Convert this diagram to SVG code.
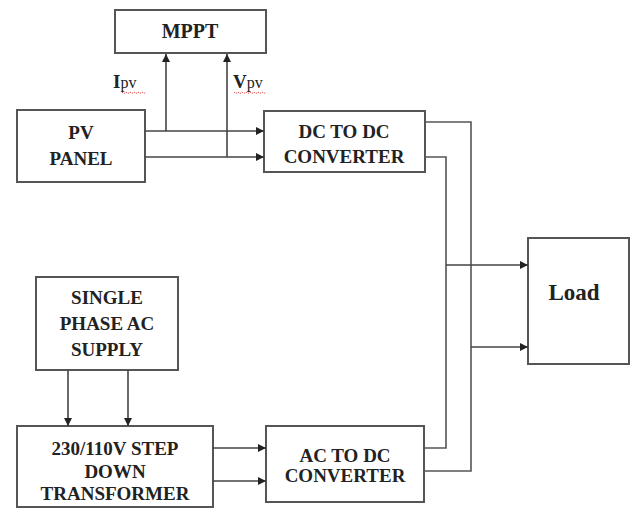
<svg xmlns="http://www.w3.org/2000/svg" width="635" height="514" viewBox="0 0 635 514">
<defs>
<marker id="ah" viewBox="0 0 10 10" refX="10" refY="5" markerWidth="8" markerHeight="8" markerUnits="userSpaceOnUse" orient="auto">
<path d="M0,0 L10,5 L0,10 z" fill="#222"/>
</marker>
<style>
.box{fill:#fff;stroke:#555;stroke-width:2}
.t{font-family:'Liberation Serif','DejaVu Serif',serif;font-weight:bold;font-size:19px;fill:#222;text-anchor:middle}
.w{fill:none;stroke:#555;stroke-width:1.6}
.a{fill:none;stroke:#444;stroke-width:1.6;marker-end:url(#ah)}
.sq{fill:none;stroke:#e04040;stroke-width:0.9;stroke-dasharray:1.5 1}
.l{font-family:'Liberation Serif','DejaVu Serif',serif;fill:#222}
</style>
</defs>
<rect width="635" height="514" fill="#fff"/>
<g id="mppt">
<rect class="box" x="115" y="10" width="151" height="43"/>
<text class="t" x="190" y="38" style="font-size:20px">MPPT</text>
</g>
<g id="pv-panel">
<rect class="box" x="17" y="110" width="128" height="72"/>
<text class="t" x="81" y="139">PV</text>
<text class="t" x="81" y="165">PANEL</text>
</g>
<g id="dc-dc">
<rect class="box" x="264" y="111" width="161" height="61"/>
<text class="t" x="344" y="138">DC TO DC</text>
<text class="t" x="344" y="163">CONVERTER</text>
</g>
<g id="load">
<rect class="box" x="528" y="238" width="101" height="126"/>
<text class="t" x="574" y="300" style="font-size:23px">Load</text>
</g>
<g id="ac-supply">
<rect class="box" x="36" y="277" width="142" height="93"/>
<text class="t" x="107" y="304">SINGLE</text>
<text class="t" x="107" y="330">PHASE AC</text>
<text class="t" x="107" y="356">SUPPLY</text>
</g>
<g id="transformer">
<rect class="box" x="17" y="426" width="196" height="81"/>
<text class="t" x="115" y="455">230/110V STEP</text>
<text class="t" x="115" y="478">DOWN</text>
<text class="t" x="115" y="500">TRANSFORMER</text>
</g>
<g id="ac-dc">
<rect class="box" x="266" y="426" width="158" height="76"/>
<text class="t" x="345" y="462">AC TO DC</text>
<text class="t" x="345" y="482">CONVERTER</text>
</g>
<g id="labels">
<text class="l" x="113" y="88" font-size="19" font-weight="bold">I<tspan font-size="16" font-weight="normal">pv</tspan></text>
<path class="sq" d="M122,92 l2,1.5 l2,-1.5 l2,1.5 l2,-1.5 l2,1.5 l2,-1.5 l2,1.5 l2,-1.5 l2,1.5 l2,-1.5 l2,1.5 l2,-1.5"/>
<text class="l" x="233" y="88" font-size="19" font-weight="bold">V<tspan font-size="16" font-weight="normal">pv</tspan></text>
<path class="sq" d="M234,92 l2,1.5 l2,-1.5 l2,1.5 l2,-1.5 l2,1.5 l2,-1.5 l2,1.5 l2,-1.5 l2,1.5 l2,-1.5 l2,1.5 l2,-1.5 l2,1.5 l2,-1.5 l2,1.5 l2,-1.5"/>
</g>
<g id="connectors">
<path class="a" d="M145,131 H264"/>
<path class="a" d="M145,157 H264"/>
<path class="a" d="M166,131 V54"/>
<path class="a" d="M227,157 V54"/>
<path class="w" d="M425,122 H471 V471 H424"/>
<path class="w" d="M425,157 H446 V448 H424"/>
<path class="a" d="M446,265 H528"/>
<path class="a" d="M471,347 H528"/>
<path class="a" d="M68,370 V426"/>
<path class="a" d="M128,370 V426"/>
<path class="a" d="M213,448 H266"/>
<path class="a" d="M213,481 H266"/>
</g>
</svg>
